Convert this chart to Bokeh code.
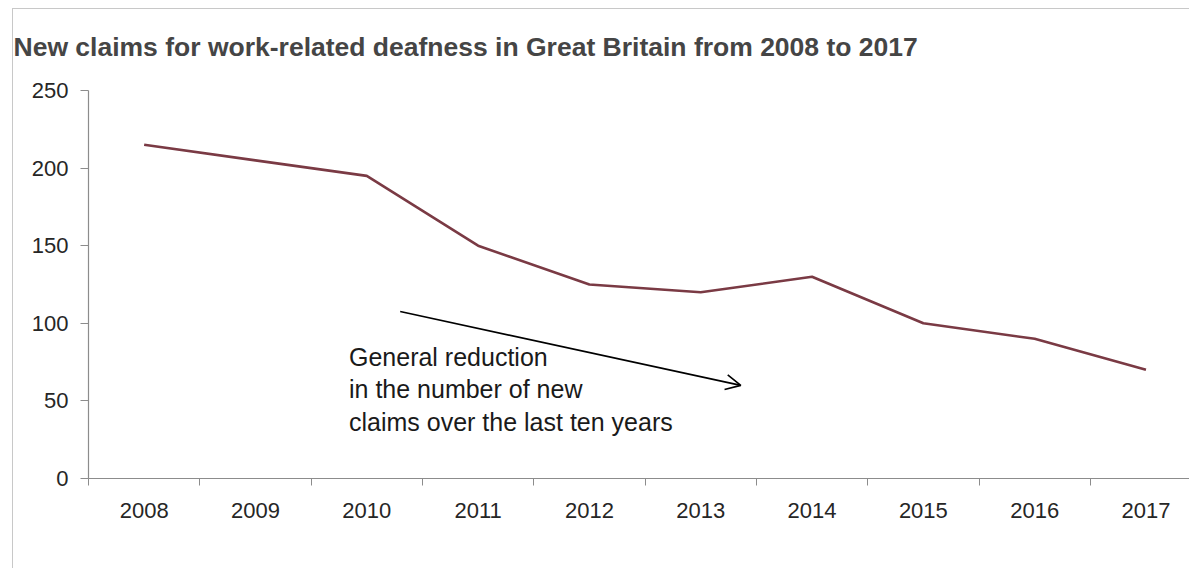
from bokeh.plotting import figure
from bokeh.models import Range1d, FixedTicker, Arrow, OpenHead, ColumnDataSource
from bokeh.core.properties import value
from bokeh.embed import file_html
from bokeh.resources import INLINE

# ---- data ----
years = ["2008", "2009", "2010", "2011", "2012", "2013", "2014", "2015", "2016", "2017"]
claims = [215, 205, 195, 150, 125, 120, 130, 100, 90, 70]
y_ticks = [0, 50, 100, 150, 200, 250]
title_text = "New claims for work-related deafness in Great Britain from 2008 to 2017"
note_lines = ["General reduction", "in the number of new", "claims over the last ten years"]

FONT = "Liberation Sans"
x_centers = [i + 0.5 for i in range(len(years))]
x_bounds = list(range(len(years) + 1))

p = figure(
    width=1177, height=560,
    x_range=Range1d(0, 9.90), y_range=Range1d(0, 262.9),
    output_backend="svg", toolbar_location=None,
    min_border_left=75, min_border_right=0, min_border_top=61, min_border_bottom=91,
    styles={"margin-left": "12px", "margin-top": "8px",
            "border-top": "1px solid #c8c8c8", "border-left": "1px solid #c8c8c8"},
)
p.outline_line_color = None
p.xgrid.visible = False
p.ygrid.visible = False
p.background_fill_color = "white"
p.border_fill_color = "white"

# title
p.title.text = title_text
p.title.align = "left"
p.title.vertical_align = "bottom"
p.title.text_font = FONT
p.title.text_font_size = "26.5px"
p.title.text_font_style = "bold"
p.title.text_color = "#454545"
p.title.offset = -75
p.title.standoff = 18

# x axis
xa = p.xaxis[0]
xa.ticker = FixedTicker(ticks=x_centers, minor_ticks=x_bounds)
xa.major_label_overrides = {x: y for x, y in zip(x_centers, years)}
xa.major_tick_in = 0
xa.major_tick_out = 0
xa.minor_tick_in = 0
xa.minor_tick_out = 7
xa.minor_tick_line_color = "#8c8c8c"
xa.axis_line_color = "#8c8c8c"
xa.axis_line_width = 1.2
xa.major_label_text_font = FONT
xa.major_label_text_font_size = "22px"
xa.major_label_text_color = "#262626"
xa.major_label_standoff = 17

# y axis
ya = p.yaxis[0]
ya.ticker = FixedTicker(ticks=y_ticks, minor_ticks=[])
ya.bounds = (min(y_ticks), max(y_ticks))
ya.major_tick_in = 0
ya.major_tick_out = 8
ya.major_tick_line_color = "#8c8c8c"
ya.axis_line_color = "#8c8c8c"
ya.axis_line_width = 1.2
ya.major_label_text_font = FONT
ya.major_label_text_font_size = "22px"
ya.major_label_text_color = "#262626"
ya.major_label_standoff = 12

# the series
src = ColumnDataSource(dict(x=x_centers, y=claims))
p.line("x", "y", source=src, line_color="#7a3a44", line_width=2.6)

# annotation arrow and text
p.add_layout(Arrow(end=OpenHead(size=15, line_color="black", line_width=1.6),
                   x_start=2.80, y_start=107.6, x_end=5.86, y_end=60,
                   line_color="black", line_width=1.6))
p.text(x=[2.34], y=[87.5], text=["\n".join(note_lines)],
       text_font=value(FONT), text_font_size="25px", text_color="#1a1a1a",
       text_baseline="top", text_align="left", text_line_height=1.17)

open("out.html", "w").write(file_html(p, INLINE))
